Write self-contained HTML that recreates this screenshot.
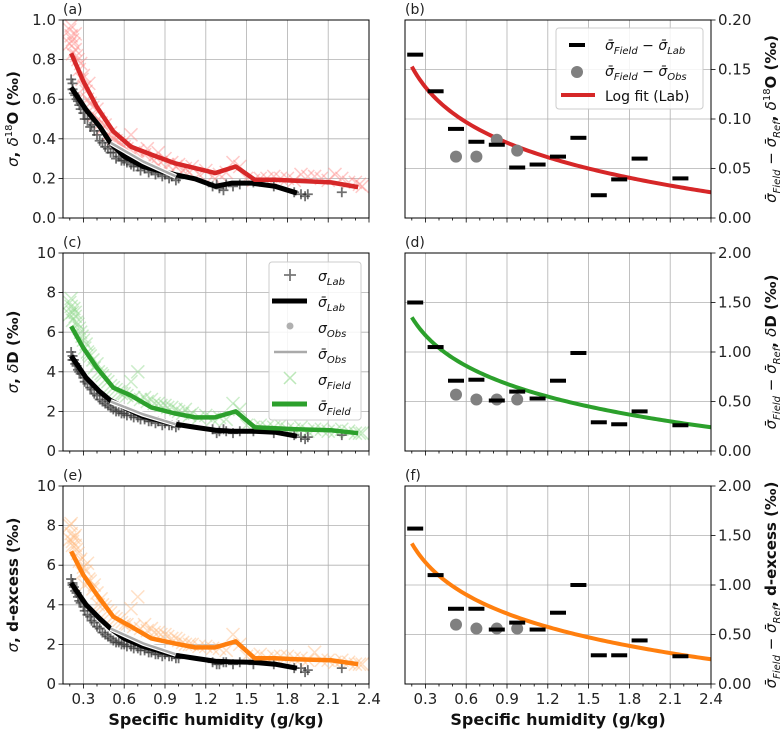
<!DOCTYPE html>
<html><head><meta charset="utf-8">
<style>
html,body{margin:0;padding:0;background:#fff;}
svg{display:block;font-family:"DejaVu Sans","Liberation Sans",sans-serif;}
</style></head>
<body>
<svg id="chart" width="782" height="729" viewBox="0 0 782 729" xmlns="http://www.w3.org/2000/svg"></svg>
<script>
// ---- data ----
const xTicks = [0.3,0.6,0.9,1.2,1.5,1.8,2.1,2.4];
const xTickLabels = ["0.3","0.6","0.9","1.2","1.5","1.8","2.1","2.4"];
const yTicksA = [0,0.2,0.4,0.6,0.8,1.0];
const yTickLabelsA = ["0.0","0.2","0.4","0.6","0.8","1.0"];
const yTicksCE = [0,2,4,6,8,10];
const yTickLabelsCE = ["0","2","4","6","8","10"];
const yTicksB = [0,0.05,0.10,0.15,0.20];
const yTickLabelsB = ["0.00","0.05","0.10","0.15","0.20"];
const yTicksDF = [0,0.5,1.0,1.5,2.0];
const yTickLabelsDF = ["0.00","0.50","1.00","1.50","2.00"];

const fieldX = [0.2,0.21,0.22,0.23,0.24,0.25,0.27,0.29,0.31,0.33,0.35,0.38,0.41,0.44,0.48,0.52,0.56,0.6,0.65,0.7,0.75,0.8,0.85,0.9,0.95,1.0,1.05,1.1,1.2,1.3,1.4,1.45,1.6,1.7,1.8,1.9,2.0,2.1,2.2,2.3,2.35,
  0.2,0.21,0.22,0.24,0.26,0.28,0.3,0.32,0.34,0.37,0.4,0.43,0.46,0.5,0.54,0.58,0.62,0.67,0.72,0.77,0.82,0.87,0.92,0.98,1.03,1.08,1.15,1.25,1.35,1.5,1.55,1.65,1.75,1.85,1.95,2.05,2.15,2.25,2.33];
const fieldA = [0.95,0.92,0.9,0.88,0.85,0.82,0.75,0.7,0.66,0.6,0.58,0.52,0.5,0.45,0.42,0.4,0.38,0.36,0.42,0.34,0.32,0.3,0.33,0.3,0.28,0.27,0.25,0.26,0.24,0.22,0.28,0.26,0.2,0.21,0.2,0.22,0.21,0.19,0.2,0.18,0.16,
  0.88,0.97,0.83,0.93,0.8,0.78,0.72,0.64,0.68,0.56,0.55,0.48,0.47,0.43,0.39,0.37,0.35,0.33,0.31,0.35,0.29,0.28,0.27,0.26,0.24,0.23,0.22,0.21,0.23,0.2,0.19,0.2,0.2,0.19,0.21,0.2,0.22,0.18,0.17];
const fieldC = [7.5,7.3,7.0,7.2,6.8,6.5,6.2,5.8,5.2,5.0,4.8,4.2,4.0,3.8,3.5,3.2,3.0,2.9,3.5,4.0,2.7,2.6,2.4,2.3,2.2,2.0,2.1,1.9,1.8,1.7,2.4,2.1,1.3,1.2,1.1,1.2,1.1,1.0,1.1,0.9,0.9,
  6.9,7.7,6.6,7.0,6.4,6.0,5.6,5.4,4.9,4.6,4.4,3.9,3.6,3.3,3.1,2.9,2.8,2.7,2.6,2.5,2.4,2.3,2.2,2.1,1.9,1.8,1.7,1.6,1.6,1.3,1.2,1.2,1.3,1.1,1.0,1.1,1.0,1.0,0.9];
const fieldE = [8.0,7.6,7.2,7.4,7.0,6.8,6.2,5.6,5.0,6.1,5.2,5.0,4.0,4.0,3.7,3.4,3.2,3.0,3.8,4.4,3.0,2.8,2.6,2.5,2.3,2.2,2.0,2.0,1.9,1.8,2.5,2.0,1.5,1.4,1.4,1.3,1.6,1.2,1.2,1.0,1.0,
  7.3,8.1,7.0,7.5,6.6,6.3,5.9,5.7,5.3,4.8,4.6,4.3,3.9,3.6,3.3,3.1,3.0,2.9,2.8,2.7,2.6,2.5,2.4,2.3,2.1,2.0,1.9,1.8,1.7,1.4,1.4,1.3,1.4,1.3,1.2,1.2,1.1,1.1,1.0];

const labX = [0.21,0.22,0.23,0.25,0.27,0.3,0.33,0.36,0.4,0.44,0.48,0.52,0.56,0.6,0.65,0.7,0.75,0.8,0.85,0.9,0.95,1.0,1.25,1.3,1.35,1.45,1.55,1.7,1.85,1.9,1.95,2.2,
  0.22,0.24,0.26,0.28,0.31,0.35,0.38,0.42,0.46,0.5,0.54,0.58,0.62,0.67,0.72,0.78,0.83,0.88,0.93,0.98,1.28,1.33,1.4,1.93];
const labA = [0.7,0.68,0.63,0.6,0.57,0.53,0.5,0.47,0.42,0.38,0.35,0.33,0.31,0.29,0.27,0.26,0.25,0.24,0.23,0.22,0.21,0.2,0.16,0.15,0.17,0.17,0.18,0.16,0.13,0.12,0.12,0.13,
  0.65,0.62,0.59,0.55,0.5,0.46,0.44,0.39,0.36,0.33,0.3,0.29,0.28,0.26,0.24,0.23,0.22,0.21,0.2,0.19,0.17,0.14,0.16,0.11];
const labC = [5.0,4.8,4.6,4.3,4.0,3.7,3.4,3.1,2.8,2.5,2.3,2.1,2.0,1.9,1.8,1.7,1.6,1.5,1.5,1.4,1.3,1.3,1.1,1.0,1.0,1.0,1.0,0.9,0.8,0.7,0.7,0.8,
  4.6,4.4,4.1,3.9,3.5,3.2,2.9,2.6,2.4,2.2,2.0,1.9,1.8,1.7,1.6,1.5,1.4,1.3,1.3,1.2,0.9,1.1,0.9,0.6];
const labE = [5.3,5.1,4.9,4.6,4.2,3.9,3.5,3.2,2.9,2.6,2.4,2.2,2.1,2.0,1.9,1.8,1.7,1.6,1.5,1.5,1.4,1.3,1.1,1.0,1.1,1.1,1.0,1.0,0.8,0.8,0.7,0.8,
  5.0,4.7,4.4,4.1,3.7,3.4,3.1,2.8,2.5,2.3,2.1,2.0,1.9,1.8,1.7,1.6,1.5,1.4,1.4,1.3,1.0,1.1,1.0,0.6];

const fieldMeanX = [0.21,0.3,0.4,0.52,0.65,0.8,0.97,1.12,1.27,1.42,1.56,1.71,1.86,2.12,2.32];
const fieldMeanA = [0.832,0.69,0.56,0.437,0.36,0.32,0.277,0.252,0.227,0.26,0.193,0.193,0.188,0.18,0.156];
const fieldMeanC = [6.3,5.2,4.2,3.2,2.8,2.2,1.9,1.7,1.7,2.0,1.2,1.15,1.1,1.05,0.9];
const fieldMeanE = [6.7,5.5,4.5,3.4,2.9,2.3,2.05,1.85,1.85,2.15,1.3,1.3,1.25,1.2,1.0];

const labMeanX = [0.21,0.32,0.42,0.5,0.6,0.74,0.98,1.12,1.27,1.39,1.54,1.71,1.87];
const labMeanA = [0.66,0.546,0.462,0.378,0.311,0.26,0.218,0.198,0.16,0.176,0.176,0.16,0.126];
const labMeanC = [4.8,3.7,3.0,2.55,2.2,1.75,1.35,1.2,1.05,1.0,1.0,0.95,0.75];
const labMeanE = [5.1,4.0,3.3,2.8,2.3,1.9,1.45,1.3,1.15,1.12,1.1,1.0,0.8];

const obsMeanX = [0.5,0.74,0.98];
const obsMeanA = [0.38,0.285,0.21];
const obsMeanC = [2.5,1.85,1.35];
const obsMeanE = [2.8,2.05,1.5];

const binX = [0.225,0.375,0.525,0.675,0.825,0.975,1.125,1.275,1.425,1.575,1.725,1.875,2.175];
const diffLabB = [0.165,0.128,0.090,0.077,0.074,0.051,0.054,0.062,0.081,0.023,0.039,0.060,0.040];
const diffLabD = [1.50,1.05,0.71,0.72,0.51,0.60,0.53,0.71,0.99,0.29,0.27,0.40,0.26];
const diffLabF = [1.57,1.10,0.76,0.76,0.55,0.62,0.55,0.72,1.00,0.29,0.29,0.44,0.28];
const obsBinX = [0.525,0.675,0.825,0.975];
const diffObsB = [0.062,0.062,0.079,0.068];
const diffObsD = [0.57,0.52,0.52,0.52];
const diffObsF = [0.60,0.56,0.56,0.56];
// log fit y = a - b ln(x)
const fitB = [0.0707,0.0511];
const fitD = [0.631,0.447];
const fitF = [0.662,0.471];

// ---- drawing ----
const NS="http://www.w3.org/2000/svg";
const svg=document.getElementById('chart');
function el(tag,attrs,parent){const e=document.createElementNS(NS,tag);for(const k in attrs)e.setAttribute(k,attrs[k]);(parent||svg).appendChild(e);return e;}

const XMIN=0.15,XMAX=2.4;
function makeAxis(x0,y0,w,h,ymax){
  return {x:v=>x0+(v-XMIN)/(XMAX-XMIN)*w, y:v=>y0+h-(v/ymax)*h, x0,y0,w,h};
}

function panel(ax,name,yTicks,yLabels,ymax,rightSide,showX,letter){
  const g=el('g',{});
  
  
  xTicks.forEach(t=>{const gl=el('line',{x1:ax.x(t),x2:ax.x(t),y1:ax.y0,y2:ax.y0+ax.h,stroke:'#b0b0b0','stroke-width':0.8},g);
    });
  yTicks.forEach(t=>{const gl=el('line',{x1:ax.x0,x2:ax.x0+ax.w,y1:ax.y(t),y2:ax.y(t),stroke:'#b0b0b0','stroke-width':0.8},g);
    });
  for(let i=2;i<=24;i++){const v=i/10;const px=ax.x(v);const major=(i%3===0);
    el('line',{x1:px,x2:px,y1:ax.y0+ax.h,y2:ax.y0+ax.h+(major?4.5:2.5),stroke:'#000','stroke-width':0.8},g);}
  if(showX){xTicks.forEach((t,i)=>{const tx=el('text',{x:ax.x(t),y:ax.y0+ax.h+20,'text-anchor':'middle','font-size':15,fill:'#222'},g);tx.textContent=xTickLabels[i];
    });}
  yTicks.forEach((t,i)=>{const py=ax.y(t);
    if(rightSide){el('line',{x1:ax.x0+ax.w,x2:ax.x0+ax.w+4.5,y1:py,y2:py,stroke:'#000','stroke-width':0.8},g);
      const tx=el('text',{x:ax.x0+ax.w+7,y:py+5,'text-anchor':'start','font-size':15,fill:'#222'},g);tx.textContent=yLabels[i];
      }
    else{el('line',{x1:ax.x0-4.5,x2:ax.x0,y1:py,y2:py,stroke:'#000','stroke-width':0.8},g);
      const tx=el('text',{x:ax.x0-7,y:py+5,'text-anchor':'end','font-size':15,fill:'#222'},g);tx.textContent=yLabels[i];
      }
  });
  const lt=el('text',{x:ax.x0,y:ax.y0-6,'font-size':14,fill:'#222'},g);lt.textContent=letter;
  
  return g;
}
function frame(ax){const r=el('rect',{x:ax.x0,y:ax.y0,width:ax.w,height:ax.h,fill:'none',stroke:'#000','stroke-width':1});
  }

function crosses(ax,xs,ys,color){
  xs.forEach((xv,i)=>{const px=ax.x(xv),py=ax.y(ys[i]);const s=6.5;
    const p=el('path',{d:`M${px-s},${py-s}L${px+s},${py+s}M${px-s},${py+s}L${px+s},${py-s}`,stroke:color,'stroke-width':1.5,'stroke-opacity':0.45,fill:'none'});
    });
}
function pluses(ax,xs,ys){
  xs.forEach((xv,i)=>{const px=ax.x(xv),py=ax.y(ys[i]);const s=5;
    const p=el('path',{d:`M${px-s},${py}L${px+s},${py}M${px},${py-s}L${px},${py+s}`,stroke:'#333','stroke-width':1.8,'stroke-opacity':0.7,fill:'none'});
    });
}
function line(ax,xs,ys,color,w,name){
  const d=xs.map((xv,i)=>(i?'L':'M')+ax.x(xv)+','+ax.y(ys[i])).join('');
  const p=el('path',{d,stroke:color,'stroke-width':w,fill:'none','stroke-linejoin':'round'});
  return p;
}
function leftPanel(ax,name,yt,yl,ymax,letter,fx,fy,lx,ly,fmx,fmy,lmx,lmy,omy,color,light,showX){
  panel(ax,name,yt,yl,ymax,false,showX,letter);
  crosses(ax,fx,fy,light);
  pluses(ax,lx,ly);
  line(ax,lmx,lmy,'#000',5,'lab-mean-line');
  line(ax,obsMeanX,omy,'#fff',5,'obs-mean-outline');
  line(ax,obsMeanX,omy,'#aaa',2.5,'obs-mean-line');
  line(ax,fmx,fmy,color,4.5,'field-mean-line');
  frame(ax);
}
function rightPanel(ax,name,yt,yl,ymax,letter,dl,dob,fit,color,showX){
  panel(ax,name,yt,yl,ymax,true,showX,letter);
  const fx=[],fy=[];
  for(let v=0.2;v<=2.4001;v+=0.02){fx.push(v);fy.push(fit[0]-fit[1]*Math.log(v));}
  line(ax,fx,fy,color,4,'log-fit-line');
  dob.forEach((v,i)=>{const c=el('circle',{cx:ax.x(obsBinX[i]),cy:ax.y(v),r:6,fill:'#808080'});
    });
  dl.forEach((v,i)=>{const r=el('rect',{x:ax.x(binX[i])-8,y:ax.y(v)-2,width:16,height:4,fill:'#000'});
    });
  frame(ax);
}

const W=306,H=198;
const axA=makeAxis(63,20,W,H,1.0), axB=makeAxis(405,20,W,H,0.2);
const axC=makeAxis(63,253,W,H,10), axD=makeAxis(405,253,W,H,2.0);
const axE=makeAxis(63,486,W,H,10), axF=makeAxis(405,486,W,H,2.0);

leftPanel(axA,'panel-a',yTicksA,yTickLabelsA,1.0,'(a)',fieldX,fieldA,labX,labA,fieldMeanX,fieldMeanA,labMeanX,labMeanA,obsMeanA,'#d62728','#ff8a88',false);
leftPanel(axC,'panel-c',yTicksCE,yTickLabelsCE,10,'(c)',fieldX,fieldC,labX,labC,fieldMeanX,fieldMeanC,labMeanX,labMeanC,obsMeanC,'#2ca02c','#8fd88a',false);
leftPanel(axE,'panel-e',yTicksCE,yTickLabelsCE,10,'(e)',fieldX,fieldE,labX,labE,fieldMeanX,fieldMeanE,labMeanX,labMeanE,obsMeanE,'#ff7f0e','#ffbb80',true);
rightPanel(axB,'panel-b',yTicksB,yTickLabelsB,0.2,'(b)',diffLabB,diffObsB,fitB,'#d62728',false);
rightPanel(axD,'panel-d',yTicksDF,yTickLabelsDF,2.0,'(d)',diffLabD,diffObsD,fitD,'#2ca02c',false);
rightPanel(axF,'panel-f',yTicksDF,yTickLabelsDF,2.0,'(f)',diffLabF,diffObsF,fitF,'#ff7f0e',true);
</script>
<script>
(function(){
const NS="http://www.w3.org/2000/svg";
const svg=document.getElementById('chart');
function txt(html,x,y,rot,anchor,name,fs){
  const t=document.createElementNS(NS,'text');
  t.setAttribute('x',x);t.setAttribute('y',y);
  t.setAttribute('text-anchor',anchor||'middle');
  if(rot)t.setAttribute('transform',`rotate(${rot} ${x} ${y})`);
  t.setAttribute('font-size',fs||'15');t.setAttribute('fill','#111');
  t.innerHTML=html;
  
  
  svg.appendChild(t);
}
txt('<tspan font-style="italic">σ</tspan><tspan font-weight="bold">, </tspan><tspan font-style="italic">δ</tspan><tspan font-size="10" dy="-6">18</tspan><tspan font-weight="bold" dy="6">O  (‰)</tspan>',18,119,-90,'middle','y-axis-title-a');
txt('<tspan font-style="italic">σ</tspan><tspan font-weight="bold">, </tspan><tspan font-style="italic">δ</tspan><tspan font-weight="bold">D (‰)</tspan>',18,352,-90,'middle','y-axis-title-c');
txt('<tspan font-style="italic">σ</tspan><tspan font-weight="bold">, d-excess (‰)</tspan>',18,585,-90,'middle','y-axis-title-e');
txt('<tspan font-weight="bold">Specific humidity (g/kg)</tspan>',216,725,0,'middle','x-axis-title-left','16');
txt('<tspan font-weight="bold">Specific humidity (g/kg)</tspan>',558,725,0,'middle','x-axis-title-right','16');
const rl='<tspan font-style="italic">σ̄</tspan><tspan font-style="italic" font-size="10" dy="4">Field</tspan><tspan dy="-4"> − </tspan><tspan font-style="italic">σ̄</tspan><tspan font-style="italic" font-size="10" dy="4">Ref</tspan><tspan dy="-4" font-weight="bold">, </tspan>';
txt(rl+'<tspan font-style="italic">δ</tspan><tspan font-size="10" dy="-6">18</tspan><tspan font-weight="bold" dy="6">O (‰)</tspan>',776,119,-90,'middle','y-axis-title-b');
txt(rl+'<tspan font-style="italic">δ</tspan><tspan font-weight="bold">D (‰)</tspan>',776,352,-90,'middle','y-axis-title-d');
txt(rl+'<tspan font-weight="bold">d-excess (‰)</tspan>',776,585,-90,'middle','y-axis-title-f');

function g(name){const e=document.createElementNS(NS,'g');svg.appendChild(e);return e;}
function add(p,tag,a){const e=document.createElementNS(NS,tag);for(const k in a)e.setAttribute(k,a[k]);p.appendChild(e);return e;}
const lb=g('legend-b');
add(lb,'rect',{x:556,y:28,width:147,height:81,rx:3,fill:'#fff','fill-opacity':0.85,stroke:'#ccc'});
add(lb,'rect',{x:569,y:43,width:16,height:4,fill:'#000'});
add(lb,'circle',{cx:577,cy:72,r:6,fill:'#808080'});
add(lb,'line',{x1:561,x2:595,y1:95,y2:95,stroke:'#d62728','stroke-width':4});
function lt(p,html,x,y){const t=add(p,'text',{x,y,'font-size':14,fill:'#111'});t.innerHTML=html;}
lt(lb,'<tspan font-style="italic">σ̄</tspan><tspan font-style="italic" font-size="10" dy="4">Field</tspan><tspan dy="-4"> − </tspan><tspan font-style="italic">σ̄</tspan><tspan font-style="italic" font-size="10" dy="4">Lab</tspan>',605,50);
lt(lb,'<tspan font-style="italic">σ̄</tspan><tspan font-style="italic" font-size="10" dy="4">Field</tspan><tspan dy="-4"> − </tspan><tspan font-style="italic">σ̄</tspan><tspan font-style="italic" font-size="10" dy="4">Obs</tspan>',605,76);
lt(lb,'Log fit (Lab)',605,101);
const lc=g('legend-c');
add(lc,'rect',{x:269,y:262,width:92,height:158,rx:3,fill:'#fff','fill-opacity':0.85,stroke:'#ccc'});
add(lc,'path',{d:'M284,275L296,275M290,269L290,281',stroke:'#777','stroke-width':1.8});
add(lc,'line',{x1:272,x2:307,y1:301,y2:301,stroke:'#000','stroke-width':5});
add(lc,'circle',{cx:290,cy:326,r:3.5,fill:'#b0b0b0'});
add(lc,'line',{x1:274,x2:307,y1:352,y2:352,stroke:'#aaa','stroke-width':2.5});
add(lc,'path',{d:'M284,372L296,384M284,384L296,372',stroke:'#8fd88a','stroke-width':1.5,'stroke-opacity':0.6});
add(lc,'line',{x1:272,x2:307,y1:404,y2:404,stroke:'#2ca02c','stroke-width':5});
const labs=['Lab','Lab','Obs','Obs','Field','Field'];
labs.forEach((l,i)=>{const bar=(i%2===1)?'σ̄':'σ';
  lt(lc,`<tspan font-style="italic">${bar}</tspan><tspan font-style="italic" font-size="10" dy="4">${l}</tspan>`,318,281+i*26);});
})();
</script>
</body></html>
